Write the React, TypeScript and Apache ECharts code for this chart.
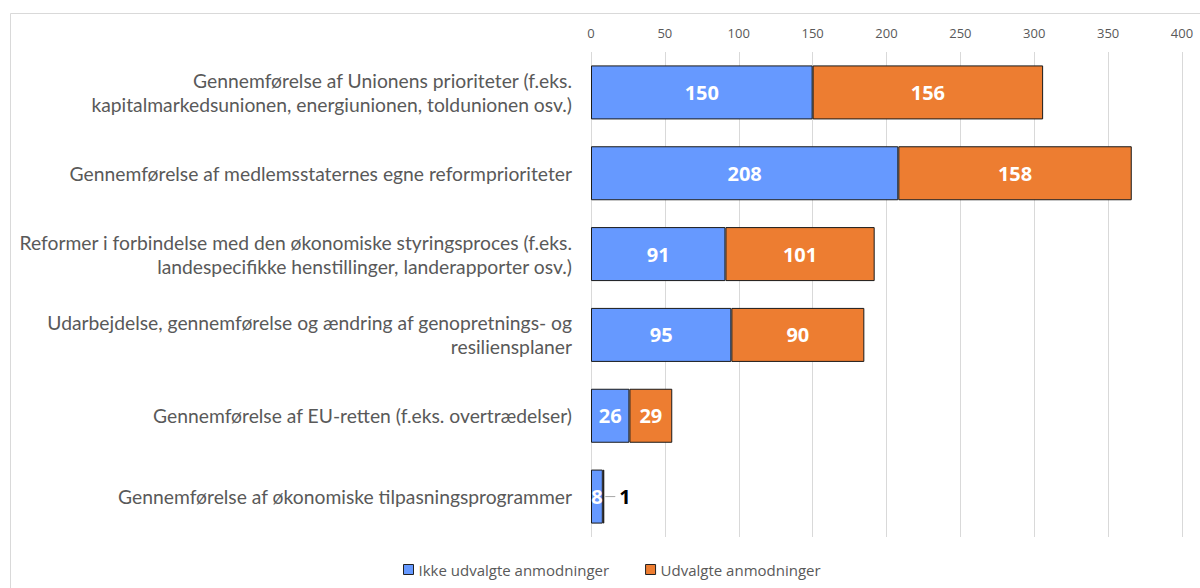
import React, { useEffect, useRef } from "react";
import * as echarts from "echarts";

const categories = [
  "Gennemførelse af Unionens prioriteter (f.eks.\nkapitalmarkedsunionen, energiunionen, toldunionen osv.)",
  "Gennemførelse af medlemsstaternes egne reformprioriteter",
  "Reformer i forbindelse med den økonomiske styringsproces (f.eks.\nlandespecifikke henstillinger, landerapporter osv.)",
  "Udarbejdelse, gennemførelse og ændring af genopretnings- og\nresiliensplaner",
  "Gennemførelse af EU-retten (f.eks. overtrædelser)",
  "Gennemførelse af økonomiske tilpasningsprogrammer",
];
const ikkeUdvalgte = [150, 208, 91, 95, 26, 8];
const udvalgte = [156, 158, 101, 90, 29, 1];
const seriesNames = ["Ikke udvalgte anmodninger", "Udvalgte anmodninger"];

export default function App() {
  const ref = useRef<HTMLDivElement>(null);
  useEffect(() => {
    const chart = echarts.init(ref.current!, undefined, { renderer: "svg" });
    const font = "'Open Sans', sans-serif";
    const valueLabel = {
      show: true,
      position: "inside",
      color: "#fff",
      fontWeight: "bold",
      fontSize: 20,
      fontFamily: font,
    };
    chart.setOption({
      animation: false,
      backgroundColor: "#fff",
      graphic: [
        {
          type: "rect",
          shape: { x: 10.5, y: 13.5, width: 1200, height: 600 },
          style: { fill: "none", stroke: "#d9d9d9", lineWidth: 1 },
          silent: true,
        },
      ],
      grid: { left: 591, right: 18, top: 52, bottom: 51, containLabel: false },
      legend: {
        bottom: 6,
        left: 398,
        itemWidth: 10,
        itemHeight: 10,
        itemGap: 36,
        icon: "rect",
        textStyle: { color: "#595959", fontSize: 15, fontFamily: font },
        data: seriesNames.map((n) => ({
          name: n,
          itemStyle: { borderColor: "#222", borderWidth: 1 },
        })),
      },
      xAxis: {
        type: "value",
        position: "top",
        min: 0,
        max: 400,
        interval: 50,
        axisLine: { show: false },
        axisTick: { show: false },
        axisLabel: { color: "#595959", fontSize: 13, fontFamily: font, margin: 13 },
        splitLine: { lineStyle: { color: "#d9d9d9", width: 1 } },
      },
      yAxis: {
        type: "category",
        inverse: true,
        data: categories,
        axisLine: { show: false },
        axisTick: { show: false },
        axisLabel: {
          color: "#595959",
          fontSize: 19.3,
          fontFamily: "Lato, sans-serif",
          lineHeight: 24,
          margin: 19,
          align: "right",
        },
      },
      series: [
        {
          name: seriesNames[0],
          type: "bar",
          stack: "total",
          barWidth: 54,
          itemStyle: { color: "#6699ff", borderColor: "#1a1a1a", borderWidth: 1 },
          label: valueLabel,
          data: ikkeUdvalgte,
        },
        {
          name: seriesNames[1],
          type: "bar",
          stack: "total",
          barWidth: 54,
          itemStyle: { color: "#ed7d31", borderColor: "#1a1a1a", borderWidth: 1 },
          label: valueLabel,
          data: udvalgte.map((v, i) =>
            i === udvalgte.length - 1
              ? {
                  value: v,
                  label: {
                    position: "right",
                    color: "#000",
                    distance: 1,
                    formatter: "{l|}{v|{c}}",
                    rich: {
                      l: {
                        width: 10,
                        height: 1,
                        backgroundColor: "#a6a6a6",
                        verticalAlign: "middle",
                      },
                      v: {
                        color: "#000",
                        fontWeight: "bold",
                        fontSize: 20,
                        fontFamily: font,
                        padding: [0, 0, 0, 4],
                      },
                    },
                  },
                }
              : v
          ),
        },
      ],
    });
    return () => chart.dispose();
  }, []);
  return (
    <div
      ref={ref}
      style={{ position: "fixed", left: 0, top: 0, width: 1200, height: 588 }}
    />
  );
}
